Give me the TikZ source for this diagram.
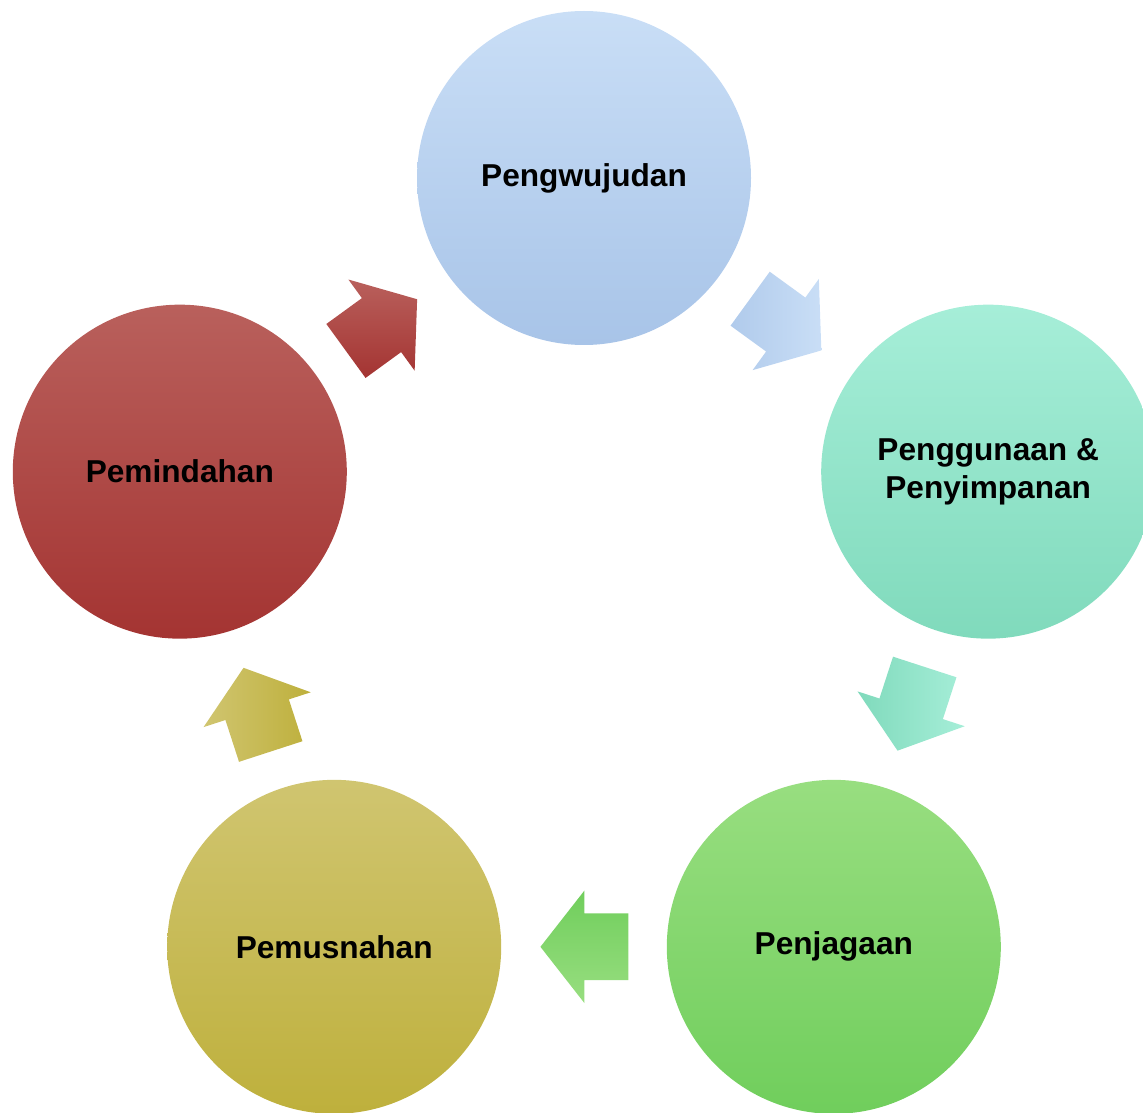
\documentclass[tikz,border=0pt]{standalone}
\usepackage{fontspec}
\setmainfont{Liberation Sans}
\usetikzlibrary{shapes.arrows}
\usetikzlibrary{calc}
\definecolor{blue_t}{RGB}{201,222,246}
\definecolor{blue_b}{RGB}{168,196,232}
\definecolor{mint_t}{RGB}{166,238,216}
\definecolor{mint_b}{RGB}{128,218,188}
\definecolor{green_t}{RGB}{152,222,128}
\definecolor{green_b}{RGB}{112,206,92}
\definecolor{olive_t}{RGB}{208,197,112}
\definecolor{olive_b}{RGB}{190,176,60}
\definecolor{red_t}{RGB}{185,96,92}
\definecolor{red_b}{RGB}{164,52,50}
\tikzset{
	stage_node/.style = {
		circle,
		align=center,
		inner sep=0pt,
		minimum size=6.68cm,
		font=\bfseries\fontsize{18}{21.6}\selectfont,
		text=black
	},
	cycle_arrow/.style = {
		single arrow,
		anchor=tip,
		inner xsep=0pt,
		inner ysep=0.66cm,
		minimum height=1.76cm,
		single arrow head extend=0.46cm,
		single arrow tip angle=104
	},
}
\begin{document}
\begin{tikzpicture}
\useasboundingbox (0,0) rectangle (22.86,22.24);
\coordinate (mid) at (11.68,10.18);
\node [stage_node, top color=blue_t, bottom color=blue_b] (pengwujudan) at ([shift={(90:8.5)}]mid) {Pengwujudan};
\node [stage_node, top color=mint_t, bottom color=mint_b] (penggunaan) at ([shift={(18:8.5)}]mid) {Penggunaan \&\\Penyimpanan};
\node [stage_node, top color=green_t, bottom color=green_b] (penjagaan) at ([shift={(-54:8.5)}]mid) {Penjagaan};
\node [stage_node, top color=olive_t, bottom color=olive_b] (pemusnahan) at ([shift={(-126:8.5)}]mid) {Pemusnahan};
\node [stage_node, top color=red_t, bottom color=red_b] (pemindahan) at ([shift={(162:8.5)}]mid) {Pemindahan};
\coordinate (m_a) at ($(pengwujudan)!0.5!(penggunaan)$);
\coordinate (m_b) at ($(penggunaan)!0.5!(penjagaan)$);
\coordinate (m_c) at ($(penjagaan)!0.5!(pemusnahan)$);
\coordinate (m_d) at ($(pemusnahan)!0.5!(pemindahan)$);
\coordinate (m_e) at ($(pemindahan)!0.5!(pengwujudan)$);
\node [cycle_arrow, rotate=-36, left color=blue_b!75!blue_t, right color=blue_t] (arr_a) at ($(m_a)!0.88cm!(penggunaan)$) {};
\node [cycle_arrow, rotate=-108, left color=mint_b, right color=mint_t] (arr_b) at ($(m_b)!0.88cm!(penjagaan)$) {};
\node [cycle_arrow, rotate=180, top color=green_b, bottom color=green_t] (arr_c) at ($(m_c)!0.88cm!(pemusnahan)$) {};
\node [cycle_arrow, rotate=108, left color=olive_t, right color=olive_b] (arr_d) at ($(m_d)!0.88cm!(pemindahan)$) {};
\node [cycle_arrow, rotate=36, top color=red_t, bottom color=red_b] (arr_e) at ($(m_e)!0.88cm!(pengwujudan)$) {};
\end{tikzpicture}
\end{document}
